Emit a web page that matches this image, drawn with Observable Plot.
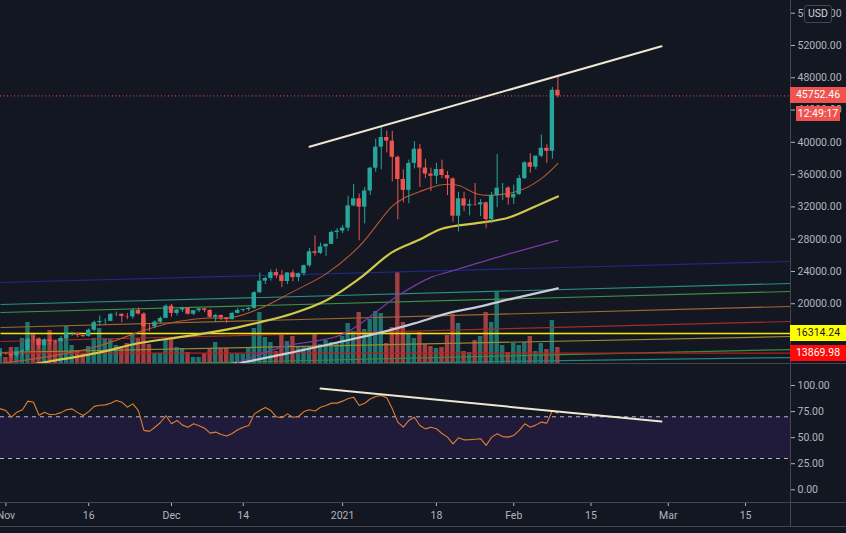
<!DOCTYPE html>
<html>
<head>
<meta charset="utf-8">
<script src="https://cdn.jsdelivr.net/npm/d3@7"></script>
<script src="https://cdn.jsdelivr.net/npm/@observablehq/plot@0.6"></script>
<style>
  html, body { margin:0; padding:0; background:#131722; }
  #chart { position:relative; width:846px; height:533px; background:#131722; overflow:hidden; font-family: Roboto, "Liberation Sans", sans-serif; }
  #chart svg { position:absolute; left:0; }
  .hline { position:absolute; left:0; width:846px; height:1px; background:#434651; }
  .vline { position:absolute; top:0; left:790px; width:1px; height:526px; background:#434651; }
  .tag { position:absolute; font-size:10.5px; height:16px; line-height:16px; text-align:center; }
</style>
</head>
<body>
<div id="chart"></div>
<script>
// ---------- DATA (daily BTC/USD candles, 2020-10-31 .. 2021-02-09) ----------
const firstDay = "2020-10-31";
const dayAfterLast = "2021-02-10";

const opens = [13560,
  13800,13760,13550,14030,14150,15590,15580,14830,15480,15330,15300,15700,16290,16330,16070,15960,16730,17660,17800,17820,18680,18700,18420,18370,19160,18720,17150,17140,17720,18180,
  19700,18800,19220,19450,18700,19150,19360,19170,18320,18550,18250,18030,18800,19170,19270,19430,21370,22800,23130,23860,23480,22750,23820,23240,23730,24710,26440,26250,27040,27360,28840,
  29000,29370,32130,33000,31970,33970,36800,39400,40600,40150,38150,35400,34050,37390,39150,36820,36070,35800,36630,35890,35470,30850,33000,32100,32290,32250,32510,30430,33400,34320,34330,
  33110,33540,35510,37470,36920,38280,39260,38890,46450];
const highs = [14100,
  13900,13820,14070,14250,15750,15960,15770,15650,15850,15460,15950,16340,16480,16330,16150,16880,17860,18480,18130,18800,18970,18750,18780,19420,19480,18900,17460,17870,18340,19850,
  19920,19310,19570,19520,19170,19420,19400,19280,18650,18570,18280,18950,19400,19330,19560,21500,23800,23300,24170,24300,24120,23830,24150,23800,24800,26860,28400,27500,27400,28990,29300,
  29680,33300,34800,33600,34400,36900,40400,41950,41380,41350,38300,36600,37800,40100,39740,37900,36800,37400,37800,36400,35600,33800,33800,32900,34900,32900,32600,33800,38500,34900,34500,
  34700,35900,37600,38600,38300,40900,39700,46800,48200];
const lows = [13430,
  13620,13200,13300,13530,14100,15200,14400,14720,14800,15070,15280,15440,15950,15800,15800,15870,16540,17230,17360,17780,18400,17650,18030,18100,18600,16300,16500,16900,17520,18180,
  18320,18500,18920,18580,18550,18900,18900,18200,17650,17910,17570,18000,18720,18950,19050,19300,21250,22380,22800,23100,22000,22370,22700,22700,23450,24500,25900,26100,25880,27320,28000,
  28700,28950,32000,27800,29900,33400,36300,36600,38700,35100,30400,32500,32400,36700,34400,35500,33900,34800,35500,33400,30100,28900,31400,30900,32100,30800,29300,29900,31900,32800,32200,
  32300,33400,35400,36200,36600,38100,37400,37900,45500];
const closes = [13800,
  13760,13550,14030,14150,15590,15580,14830,15480,15330,15300,15700,16290,16330,16070,15960,16730,17660,17800,17820,18680,18700,18420,18370,19160,18720,17150,17140,17720,18180,19700,
  18800,19220,19450,18700,19150,19360,19170,18320,18550,18250,18030,18800,19170,19270,19430,21370,22800,23130,23860,23480,22750,23820,23240,23730,24710,26440,26250,27040,27360,28840,29000,
  29370,32130,33000,31970,33970,36800,39400,40600,40150,38150,35400,34050,37390,39150,36820,36070,35800,36630,35890,35470,30850,33000,32100,32290,32250,32510,30430,33400,34320,34330,33110,
  33540,35510,37470,36920,38280,39260,38890,46450,45752.46];
// volume (thousand units, relative)
const volumes = [15,
  6,16,16,25,41,30,25,24,33,23, 25,37,18,13,10,17,25,35,25,24, 18,15,20,30,25,45,19,10,10,24,
  26,16,15,11,6,6,10,15,21,15, 15,9,10,9,15,35,51,26,21,12, 30,22,27,16,16,17,30,19,23,21,
  21,27,40,32,51,34,44,52,50,20, 36,91,41,30,25,31,19,17,15,16, 28,49,40,12,11,23,27,51,41,71,
  18,11,20,18,21,27,12,20,14,43, 16];
const rsiValues = [77.6,
  76,69.6,74.4,76.7,85,84,71.5,74.4,72,72.5, 74,76.7,77.6,74,71.2,75,80,81,81.4,83,
  85.6,84,79.2,82.4,76,57,56,60,64.5,71, 63.3,66.5,62,60,63.3,61.5,59,54.3,55.3,53,
  51.5,54,57.5,60,61.7,72.8,76,79,76,70, 69,72.8,69.6,70.3,75,76.7,75.5,79.2,80.8,83.1,
  83.1,85,87.5,88.8,80.8,83,87,89.5,90.4,88.2, 77.6,64.9,60,66.5,69.6,61.7,58.4,60,58.5,54,
  50.5,44.1,49.8,47.9,48,48.5,49,42.5,50.5,53.7, 51,50.5,52.1,57,63.3,60,62,64.9,63.9,76,
  73.5];

// moving averages
const ma20Dates  = ["2020-10-31","2020-11-10","2020-11-18","2020-11-26","2020-12-01","2020-12-07","2020-12-12","2020-12-17","2020-12-23","2020-12-29","2021-01-04","2021-01-10","2021-01-12","2021-01-15","2021-01-19","2021-01-22","2021-01-26","2021-02-02","2021-02-06","2021-02-09"];
const ma20Values = [12600,13600,14800,16700,17650,18200,18300,19400,21500,23700,27100,32100,33050,33900,34750,34650,33500,34000,35500,37400];
const ma50Dates  = ["2020-11-05","2020-11-09","2020-11-18","2020-11-25","2020-12-01","2020-12-07","2020-12-13","2020-12-17","2020-12-23","2020-12-29","2021-01-04","2021-01-10","2021-01-15","2021-01-19","2021-01-26","2021-01-31","2021-02-06","2021-02-09"];
const ma50Values = [12400,12870,13980,15100,15720,16330,17080,17700,18800,20400,23100,26400,27950,29300,30050,30650,32400,33300];
const ma100Dates  = ["2020-12-13","2020-12-15","2020-12-22","2021-01-01","2021-01-11","2021-01-17","2021-01-20","2021-01-29","2021-02-09"];
const ma100Values = [12700,13240,14800,16200,21000,23270,23900,25750,27850];
const ma200Dates  = ["2020-12-05","2020-12-13","2020-12-22","2021-01-01","2021-01-08","2021-01-14","2021-01-20","2021-01-26","2021-02-01","2021-02-09"];
const ma200Values = [12000,12650,13850,15350,16450,17570,18800,19680,20670,21900];

// long drawn lines: price at left edge and right edge of the view
const levelNames  = ["navy","teal","green","brown","red","yellow","olive","green2","red2","teal2"];
const levelLeft   = [22631,19905,18913,17055,15320,16314.24,13957,12098,13869.98,11974];
const levelRight  = [25233,22507,21516,19657,17798,16314.24,15939,14328,13869.98,13333];
const levelColors = ["#1f2a86","#2a8f80","#3d9440","#a06a2c","#a52a2a","#f5e800","#9c8a2e","#3b8a3b","#b32020","#26867a"];

// trend lines
const priceTrendDates  = ["2020-12-26","2021-02-27T18:30:00Z"];
const priceTrendValues = [39450,51900];
const rsiTrendDates    = ["2020-12-28","2021-02-27T18:30:00Z"];
const rsiTrendValues   = [97.1,65.5];
const rsiBand = [30,70];

const lastPrice = 45752.46;
const countdown = "12:49:17";
const level1 = 16314.24;
const level2 = 13869.98;

const priceTicks = [20000,24000,28000,32000,36000,40000,44000,48000,52000,56000];
const rsiTicks = [0,25,50,75,100];
const xTickDates  = ["2020-11-01","2020-11-16","2020-12-01","2020-12-14","2021-01-01","2021-01-18","2021-02-01","2021-02-15","2021-03-01","2021-03-15"];
const xTickLabels = ["Nov","16","Dec","14","2021","18","Feb","15","Mar","15"];

// ---------- BUILD ----------
const up = "#26a69a", down = "#ef5350";
const days = d3.utcDay.range(new Date(firstDay), new Date(dayAfterLast));
const candles = days.map((d, i) => ({
  date: d, open: opens[i], high: highs[i], low: lows[i], close: closes[i],
  volume: volumes[i], rsi: rsiValues[i], color: closes[i] >= opens[i] ? up : down
}));
const half = 9.5 * 3600 * 1000;
const xDomain = [new Date("2020-10-31T00:32:00Z"), new Date("2021-03-23T03:22:00Z")];
const toSeries = (ds, vs) => ds.map((d, i) => ({date: new Date(d), v: vs[i]}));
const levels = levelNames.map((n, i) => ({x1: xDomain[0], x2: xDomain[1], y1: levelLeft[i], y2: levelRight[i], c: levelColors[i], w: n === "yellow" ? 1.6 : 1.2}));
const tickLabelMap = new Map(xTickDates.map((d, i) => [+new Date(d), xTickLabels[i]]));

const font = 'Roboto, "Liberation Sans", sans-serif';
const baseStyle = {background: "transparent", color: "#b2b5be", fontFamily: font, fontSize: "10.5px"};
const chart = document.getElementById("chart");

// volume layer
const vol = Plot.plot({
  width: 846, height: 363, marginLeft: 0, marginRight: 56, marginTop: 0, marginBottom: 0,
  x: {type: "utc", domain: xDomain, axis: null},
  y: {domain: [0, 363], axis: null},
  color: {type: "identity"},
  style: baseStyle,
  marks: [
    Plot.rect(candles, {x1: d => new Date(+d.date - half), x2: d => new Date(+d.date + half), y1: 0, y2: "volume", fill: "color", fillOpacity: 0.66, clip: true})
  ]
});
vol.style.top = "0px";
chart.appendChild(vol);

// price layer
const price = Plot.plot({
  width: 846, height: 363, marginLeft: 0, marginRight: 56, marginTop: 0, marginBottom: 0,
  x: {type: "utc", domain: xDomain, axis: null},
  y: {domain: [12595, 57576]},
  color: {type: "identity"},
  style: baseStyle,
  marks: [
    Plot.link(levels, {x1: "x1", x2: "x2", y1: "y1", y2: "y2", stroke: "c", strokeWidth: "w", clip: true}),
    Plot.line(toSeries(ma200Dates, ma200Values), {x: "date", y: "v", stroke: "#c9ccd6", strokeWidth: 2.2, curve: "catmull-rom", clip: true}),
    Plot.line(toSeries(ma100Dates, ma100Values), {x: "date", y: "v", stroke: "#7b3aa6", strokeWidth: 1.2, curve: "catmull-rom", clip: true}),
    Plot.line(toSeries(ma50Dates, ma50Values), {x: "date", y: "v", stroke: "#d2c84a", strokeWidth: 2.2, curve: "catmull-rom", clip: true}),
    Plot.line(toSeries(ma20Dates, ma20Values), {x: "date", y: "v", stroke: "#b9582c", strokeWidth: 1.1, curve: "catmull-rom", clip: true}),
    Plot.ruleY([lastPrice], {stroke: down, strokeDasharray: "1,2.5", strokeWidth: 1}),
    Plot.ruleX(candles, {x: "date", y1: "low", y2: "high", stroke: "color", strokeWidth: 1, clip: true}),
    Plot.rect(candles, {x1: d => new Date(+d.date - half), x2: d => new Date(+d.date + half), y1: "open", y2: "close", fill: "color", clip: true}),
    Plot.line(toSeries(priceTrendDates, priceTrendValues), {x: "date", y: "v", stroke: "#ece6d2", strokeWidth: 2}),
    Plot.axisY({anchor: "right", ticks: priceTicks, tickFormat: d => d.toFixed(2), tickSize: 4, tickPadding: 3, label: null})
  ]
});
price.style.top = "0px";
chart.appendChild(price);

// RSI pane
const rsi = Plot.plot({
  width: 846, height: 170, marginLeft: 0, marginRight: 56, marginTop: 0, marginBottom: 31,
  x: {type: "utc", domain: xDomain},
  y: {domain: [-12.18, 121.09]},
  style: baseStyle,
  marks: [
    Plot.rect([{x1: xDomain[0], x2: xDomain[1], y1: rsiBand[0], y2: rsiBand[1]}], {x1: "x1", x2: "x2", y1: "y1", y2: "y2", fill: "#201a3b"}),
    Plot.ruleY(rsiBand, {stroke: "#b8b8cc", strokeDasharray: "4,4", strokeWidth: 1}),
    Plot.line(candles, {x: "date", y: "rsi", stroke: "#e07f2e", strokeWidth: 1.1, clip: true}),
    Plot.line(toSeries(rsiTrendDates, rsiTrendValues), {x: "date", y: "v", stroke: "#ece6d2", strokeWidth: 2}),
    Plot.axisY({anchor: "right", ticks: rsiTicks, tickFormat: d => d.toFixed(2), tickSize: 4, tickPadding: 3, label: null}),
    Plot.axisX({anchor: "bottom", ticks: xTickDates.map(d => new Date(d)), tickFormat: d => tickLabelMap.get(+d), tickSize: 4, tickPadding: 5, label: null})
  ]
});
rsi.style.top = "363px";
chart.appendChild(rsi);

// pane separators and price axis border
[363, 502, 526].forEach(t => {
  const l = document.createElement("div"); l.className = "hline"; l.style.top = t + "px"; chart.appendChild(l);
});
const v = document.createElement("div"); v.className = "vline"; chart.appendChild(v);

// price-axis tags positioned through the price scale
const ys = price.scale("y");
function tag(text, value, bg, fg, left, width, dy, h) {
  const el = document.createElement("div");
  el.className = "tag";
  el.textContent = text;
  el.style.background = bg; el.style.color = fg;
  el.style.left = left + "px"; el.style.width = width + "px";
  el.style.height = h + "px"; el.style.lineHeight = h + "px";
  el.style.top = (ys.apply(value) - 8 + dy) + "px";
  chart.appendChild(el);
}
tag(lastPrice.toFixed(2), lastPrice, "#ef5350", "#ffffff", 790, 56, 0, 16);
tag(countdown, lastPrice, "#ef5350", "#ffffff", 796, 44, 19, 15);
tag(level1.toFixed(2), level1, "#ffff00", "#131722", 790, 56, 0, 16);
tag(level2.toFixed(2), level2, "#ff0a0a", "#ffffff", 790, 56, 0, 16);

const usd = document.createElement("div");
usd.textContent = "USD";
Object.assign(usd.style, {position: "absolute", left: "804px", top: "5px", width: "26px", height: "16px", lineHeight: "16px",
  textAlign: "center", fontSize: "10.5px", color: "#d1d4dc", background: "#131722", border: "1px solid #434651", borderRadius: "3px"});
chart.appendChild(usd);
</script>
</body>
</html>
